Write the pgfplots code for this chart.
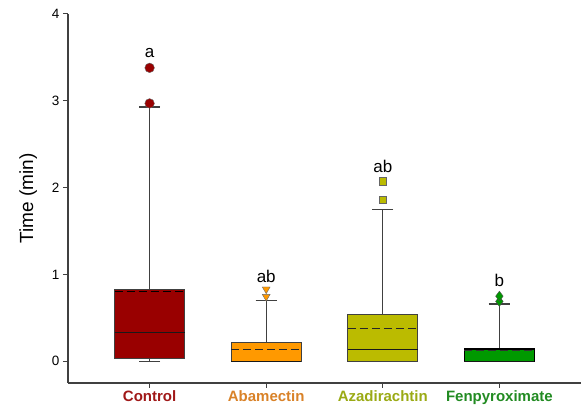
\documentclass[border=0pt]{standalone}
\usepackage{pgfplots}
\pgfplotsset{compat=1.18}
\usepgfplotslibrary{statistics}
\usepackage{fontspec}
\setmainfont{Liberation Sans}
\definecolor{cctrl}{HTML}{990000}
\definecolor{caba}{HTML}{FF9900}
\definecolor{caza}{HTML}{BBBB00}
\definecolor{cfen}{HTML}{009900}
\definecolor{lctrl}{HTML}{A01818}
\definecolor{laba}{HTML}{D98228}
\definecolor{laza}{HTML}{9AAA14}
\definecolor{lfen}{HTML}{228B22}
\begin{document}
\begin{tikzpicture}
\begin{axis}[
  name=ax,
  scale only axis,
  width=513pt, height=369pt,
  xmin=0.3, xmax=4.7, ymin=-0.25, ymax=4,
  axis x line*=bottom, axis y line*=left,
  axis line style={-, line width=1.1pt, draw=black!75},
  xtick={1,2,3,4},
  xticklabels={\textcolor{lctrl}{\bfseries Control},\textcolor{laba}{\bfseries Abamectin},\textcolor{laza}{\bfseries Azadirachtin},\textcolor{lfen}{\bfseries Fenpyroximate}},
  xticklabel style={font=\fontsize{15}{17}\selectfont, yshift=1pt},
  ytick={0,1,2,3,4},
  yticklabel style={font=\fontsize{13.5}{15}\selectfont},
  /pgf/number format/assume math mode=true,
  tick align=outside,
  major tick length=5pt,
  tick style={line width=1pt, draw=black!75},
  ylabel={Time (min)},
  ylabel style={font=\fontsize{19}{21}\selectfont, yshift=8pt},
  boxplot/draw direction=y,
  boxplot/every whisker/.style={line width=1.3pt, draw=black!75},
  boxplot/every median/.style={line width=1.1pt, draw=black!90},
  clip=false,
]
% Control
\addplot+[boxplot prepared={draw position=1, lower whisker=0, lower quartile=0.03, median=0.33, upper quartile=0.83, upper whisker=2.93, box extend=0.6, whisker extend=0.18},
  draw=black!75, line width=1pt, fill=cctrl, solid,
  mark=*, mark size=4.8pt, mark options={fill=cctrl, draw=black!60, line width=0.4pt}]
  coordinates {(0,2.97) (0,3.38)};
\addplot[black, line width=1pt, dash pattern=on 8pt off 4pt] coordinates {(0.7,0.80) (1.3,0.80)};
% Abamectin
\addplot+[boxplot prepared={draw position=2, lower whisker=0, lower quartile=0, median=0, upper quartile=0.22, upper whisker=0.70, box extend=0.6, whisker extend=0.18},
  draw=black!75, line width=1pt, fill=caba, solid,
  mark=triangle*, mark size=4.5pt, mark options={rotate=180, fill=caba, draw=black!60, line width=0.4pt}]
  coordinates {(0,0.745) (0,0.83)};
\addplot[black!85, line width=1pt, dash pattern=on 8pt off 4pt] coordinates {(1.7,0.14) (2.3,0.14)};
% Azadirachtin
\addplot+[boxplot prepared={draw position=3, lower whisker=0, lower quartile=0, median=0.14, upper quartile=0.54, upper whisker=1.75, box extend=0.6, whisker extend=0.18},
  draw=black!75, line width=1pt, fill=caza, solid,
  mark=square*, mark size=3.9pt, mark options={fill=caza, draw=black!60, line width=0.4pt}]
  coordinates {(0,1.86) (0,2.07)};
\addplot[black!85, line width=1pt, dash pattern=on 8pt off 4pt] coordinates {(2.7,0.38) (3.3,0.38)};
% Fenpyroximate
\addplot+[boxplot prepared={draw position=4, lower whisker=0, lower quartile=0, median=0, upper quartile=0.14, upper whisker=0.66, box extend=0.6, whisker extend=0.18},
  draw=black, line width=1.3pt, fill=cfen, solid,
  mark=diamond*, mark size=5pt, mark options={fill=cfen, draw=black!70, line width=0.4pt}]
  coordinates {(0,0.69) (0,0.75)};
\addplot[black!80, line width=1pt, dash pattern=on 8pt off 4pt] coordinates {(3.7,0.13) (4.3,0.13)};
% letters
\node[font=\fontsize{17}{19}\selectfont] at (axis cs:1,3.55) {a};
\node[font=\fontsize{17}{19}\selectfont] at (axis cs:2,0.98) {ab};
\node[font=\fontsize{17}{19}\selectfont] at (axis cs:3,2.25) {ab};
\node[font=\fontsize{17}{19}\selectfont] at (axis cs:4,0.93) {b};
\end{axis}
\pgfresetboundingbox
\path[use as bounding box] ([shift={(-68pt,-24pt)}]ax.south west) rectangle ([shift={(0pt,14pt)}]ax.north east);
\end{tikzpicture}
\end{document}
